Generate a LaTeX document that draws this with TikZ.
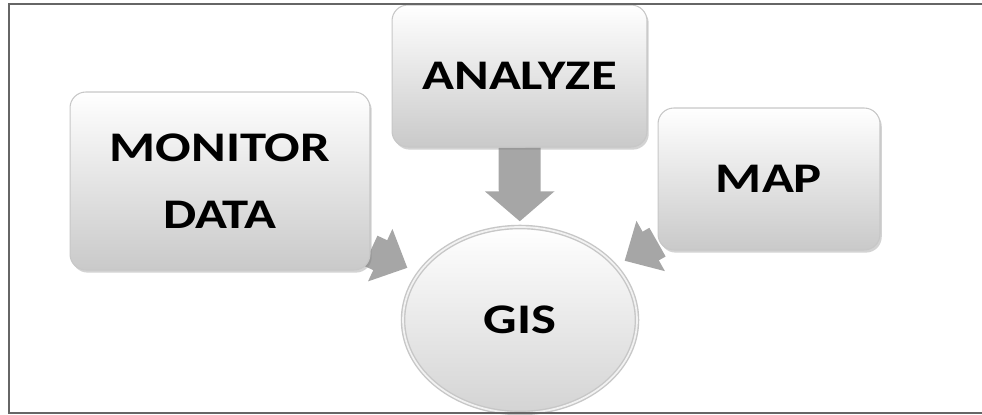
\documentclass[tikz,border=0pt]{standalone}
\usepackage{fontspec}
\setmainfont{Carlito}[FakeStretch=1.25]
\usetikzlibrary{arrows.meta,shapes.geometric,shadows,backgrounds}

\colorlet{boxline}{black!22}
\colorlet{flowgray}{black!35}
\tikzstyle{stage}=[draw=boxline,line width=.6pt,rounded corners=9pt,top color=white,bottom color=black!21,
  drop shadow={opacity=.35,shadow xshift=1pt,shadow yshift=-1.5pt},
  font=\fontsize{24}{38}\selectfont\bfseries,align=center,inner sep=0pt]
\tikzstyle{hub}=[ellipse,draw=boxline,line width=.8pt,top color=white,bottom color=black!17,
  double=white!95!black,double distance=1pt,
  font=\fontsize{24}{38}\selectfont\bfseries,inner sep=0pt]
\tikzstyle{flow}=[draw=flowgray,line width=.84cm,-{Triangle[length=.6cm,width=1.36cm]}]
\tikzstyle{sideflow}=[flow,line width=.66cm,-{Triangle[length=.6cm,width=1.12cm]}]
\tikzstyle{frame}=[draw=black!60,line width=1.3pt]

\begin{document}
\begin{tikzpicture}[x=.02cm,y=-.02cm]
	\useasboundingbox (0,0) rectangle (982,415);
	\node[stage,minimum width=6cm,minimum height=3.56cm] (mon) at (220,181) {MONITOR\\DATA};
	\node[stage,minimum width=5.1cm,minimum height=2.84cm] (ana) at (519.5,76) {ANALYZE};
	\node[stage,minimum width=4.44cm,minimum height=2.84cm] (map) at (769,179) {MAP};
	\node[hub,minimum width=4.68cm,minimum height=3.72cm] (gis) at (520,320) {GIS};
	\begin{scope}[on background layer]
	\draw[flow,shorten >=.1cm] (ana) -- (gis);
	\draw[sideflow,shorten >=.24cm] (mon) -- (gis);
	\draw[sideflow,shorten >=.2cm] (map) -- (gis);
	\end{scope}
	% open frame, cut on the right
	\draw[frame] (982,4) -- (9,4) -- (9,413) -- (982,413);
\end{tikzpicture}
\end{document}
